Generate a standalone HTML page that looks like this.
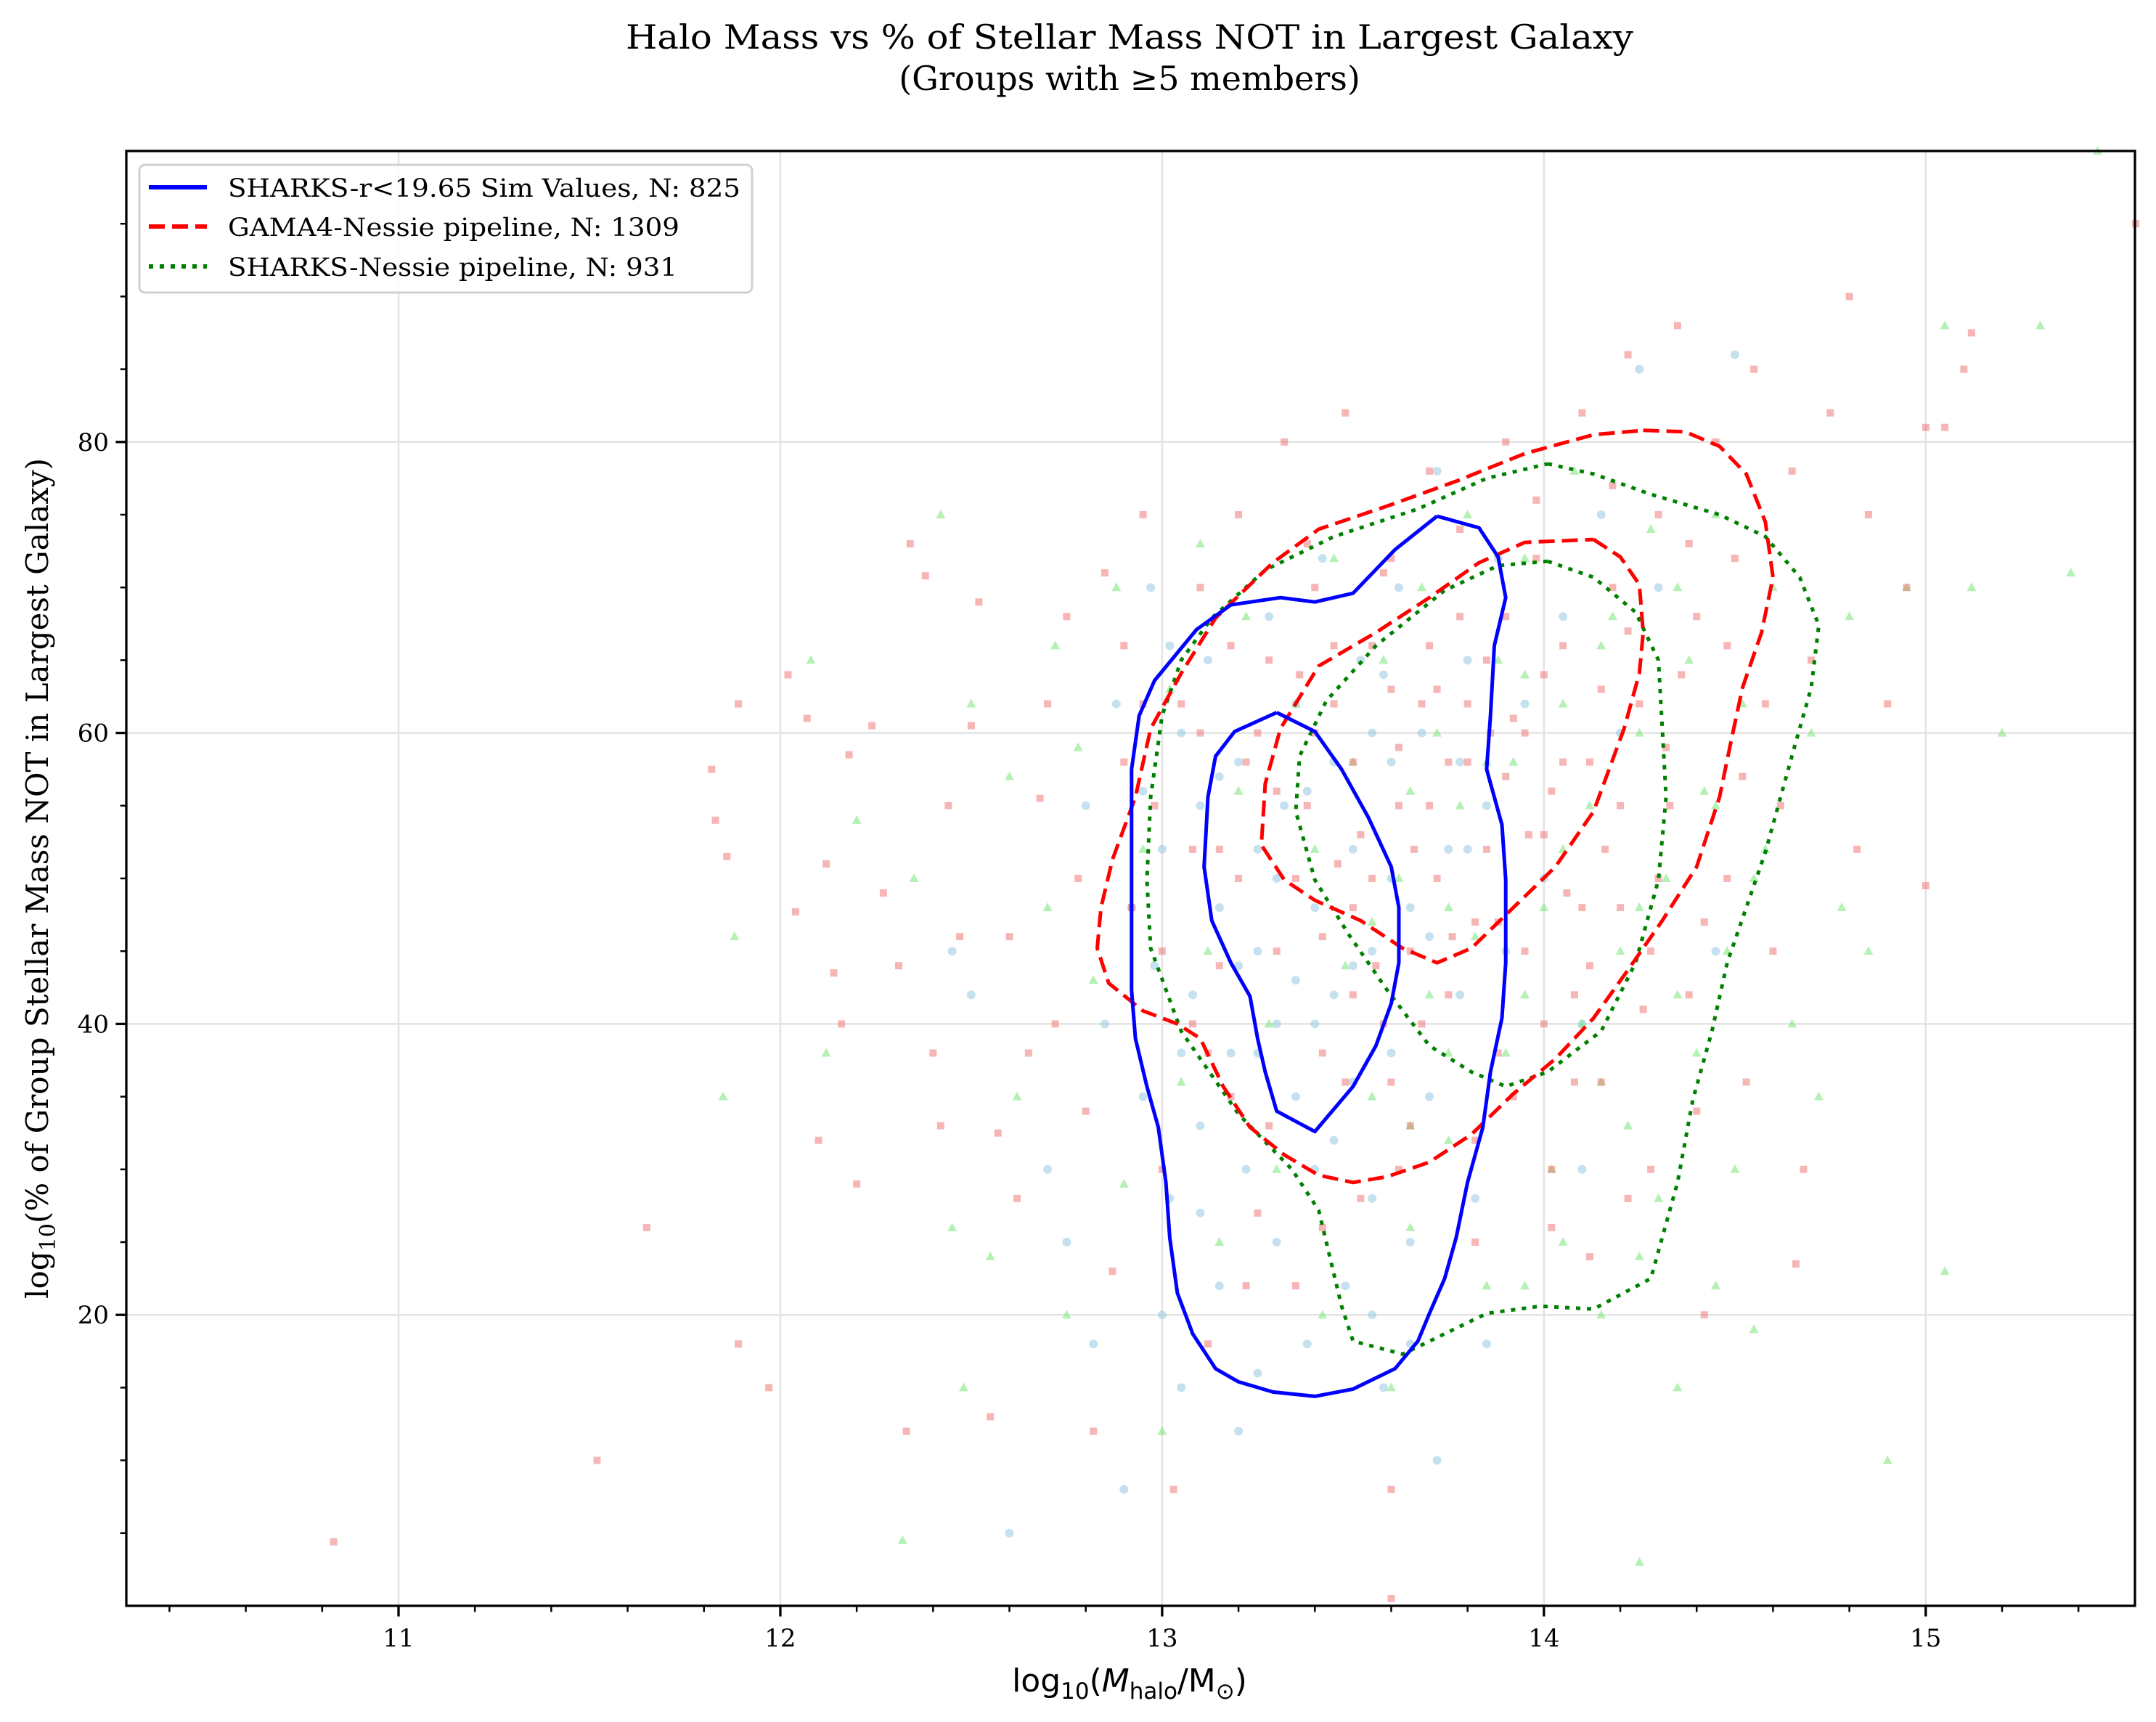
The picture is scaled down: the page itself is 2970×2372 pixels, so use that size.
<!DOCTYPE html>
<html><head><meta charset="utf-8">
<style>
html,body{margin:0;padding:0;background:#fff;}
svg{display:block;font-family:"DejaVu Serif","Liberation Serif",serif;}
</style></head>
<body>
<svg id="chart" width="2970" height="2372" viewBox="0 0 2970 2372" xmlns="http://www.w3.org/2000/svg">
<rect x="0" y="0" width="2970" height="2372" fill="#fff"/>
<g id="grid"></g>
<g id="points"></g>
<g id="contours"></g>
<g id="axes"></g>
<text x="1556" y="67" font-size="46" text-anchor="middle" textLength="1388" lengthAdjust="spacingAndGlyphs">Halo Mass vs % of Stellar Mass NOT in Largest Galaxy</text>
<text x="1556" y="124" font-size="46" text-anchor="middle">(Groups with ≥5 members)</text>
<text x="1556" y="2330" font-size="44" text-anchor="middle" font-family="'DejaVu Sans',sans-serif">log<tspan font-size="31" dy="10">10</tspan><tspan dy="-10">(</tspan><tspan font-style="italic">M</tspan><tspan font-size="31" dy="10">halo</tspan><tspan dy="-10">/M</tspan><tspan font-size="31" dy="10">⊙</tspan><tspan dy="-10">)</tspan></text>
<text transform="translate(66,1210) rotate(-90)" font-size="42" text-anchor="middle">log<tspan font-size="30" dy="10">10</tspan><tspan dy="-10">(% of Group Stellar Mass NOT in Largest Galaxy)</tspan></text>
<g>
<rect x="192" y="227" width="844" height="176" rx="8" fill="#fff" fill-opacity="0.85" stroke="#d0d0d0" stroke-width="3"/>
<line x1="205" y1="258" x2="285" y2="258" stroke="#0000ff" stroke-width="6"/>
<text x="314" y="271" font-size="35" textLength="706" lengthAdjust="spacingAndGlyphs">SHARKS-r&lt;19.65 Sim Values, N: 825</text>
<line x1="205" y1="312" x2="285" y2="312" stroke="#ff0000" stroke-width="6" stroke-dasharray="22,10"/>
<text x="314" y="325" font-size="35" textLength="622" lengthAdjust="spacingAndGlyphs">GAMA4-Nessie pipeline, N: 1309</text>
<line x1="205" y1="367" x2="285" y2="367" stroke="#008000" stroke-width="6" stroke-dasharray="6,9"/>
<text x="314" y="380" font-size="35" textLength="619" lengthAdjust="spacingAndGlyphs">SHARKS-Nessie pipeline, N: 931</text>
</g>
</svg>
<script>
const xTicks = [11, 12, 13, 14, 15];
const yTicks = [20, 40, 60, 80];
const redPts = [[10.83,4.4],[11.52,10],[11.65,26],[11.89,18],[11.97,15],[11.82,57.5],[11.83,54],[11.86,51.5],[11.89,62],[12.02,64],[12.04,47.7],[12.07,61],[12.1,32],[12.12,51],[12.14,43.5],[12.16,40],[12.18,58.5],[12.2,29],[12.24,60.5],[12.27,49],[12.31,44],[12.33,12],[12.34,73],[12.38,70.8],[12.4,38],[12.42,33],[12.44,55],[12.47,46],[12.5,60.5],[12.52,69],[12.55,13],[12.57,32.5],[12.6,46],[12.62,28],[12.65,38],[12.68,55.5],[12.7,62],[12.72,40],[12.75,68],[12.78,50],[12.8,34],[12.82,12],[12.85,71],[12.87,23],[12.9,66],[12.92,48],[12.95,75],[12.98,55],[13.0,30],[13.03,8],[13.05,62],[13.08,40],[13.1,70],[13.12,18],[13.15,52],[13.18,35],[13.2,75],[13.22,58],[13.25,27],[13.28,65],[13.3,45],[13.32,80],[13.35,22],[13.38,55],[13.4,70],[13.42,38],[13.45,62],[13.48,82],[13.5,48],[13.52,28],[13.55,66],[13.58,40],[13.6,72],[13.62,55],[13.65,33],[13.68,62],[13.7,78],[13.72,50],[13.75,42],[13.78,68],[13.8,58],[13.82,25],[13.85,65],[13.88,47],[13.9,80],[13.92,35],[13.95,60],[13.98,72],[14.0,53],[14.02,26],[14.05,66],[14.08,42],[14.1,82],[14.12,58],[14.15,36],[14.18,70],[14.2,48],[14.22,86],[14.25,62],[14.28,30],[14.3,75],[14.33,55],[14.35,88],[14.38,42],[14.4,68],[14.42,20],[14.45,80],[14.48,50],[14.5,72],[14.53,36],[14.55,85],[14.58,62],[14.6,45],[14.65,78],[14.68,30],[14.7,65],[14.75,82],[14.8,90],[14.82,52],[14.85,75],[14.9,62],[14.95,70],[15.0,81],[15.0,49.5],[15.05,81],[15.1,85],[15.12,87.5],[15.55,95],[14.66,23.5],[13.6,8],[13.6,0.5],[13.4,60],[13.5,58],[13.6,63],[13.7,55],[13.8,62],[13.9,57],[14.0,64],[13.55,50],[13.65,45],[13.75,58],[13.85,52],[13.95,45],[14.05,58],[14.15,63],[13.45,66],[13.35,50],[13.25,60],[13.15,44],[14.1,48],[14.2,55],[13.7,66],[13.9,68],[14.0,40],[13.3,56],[13.5,42],[14.3,50],[13.1,60],[13.6,36],[13.42,46],[13.52,53],[13.62,59],[13.72,63],[13.82,47],[13.92,61],[14.02,56],[14.12,44],[14.22,67],[14.32,59],[14.42,47],[14.52,57],[13.36,64],[13.46,51],[13.56,44],[13.66,52],[13.76,46],[13.86,60],[13.96,53],[14.06,49],[14.16,52],[14.26,41],[14.36,64],[13.2,50],[13.0,45],[12.95,62],[13.12,38],[13.28,33],[13.48,36],[13.68,40],[13.88,38],[14.08,36],[14.28,45],[14.48,66],[14.62,55],[13.58,71],[13.78,74],[13.98,76],[14.18,77],[14.38,73],[13.38,73],[13.18,66],[13.08,52],[12.9,58],[13.62,30],[13.82,32],[14.02,30],[14.22,28],[13.42,26],[13.22,22],[14.4,34],[14.12,24]];
const bluePts = [[12.45,45],[12.5,42],[12.6,5],[12.7,30],[12.75,25],[12.8,55],[12.82,18],[12.85,40],[12.88,62],[12.9,8],[12.92,48],[12.95,35],[12.97,70],[13.0,52],[13.0,20],[13.02,28],[13.05,60],[13.05,15],[13.08,42],[13.1,55],[13.1,33],[13.12,65],[13.15,22],[13.15,48],[13.18,38],[13.2,58],[13.2,12],[13.22,30],[13.25,52],[13.25,45],[13.28,68],[13.3,25],[13.3,40],[13.32,55],[13.35,35],[13.35,62],[13.38,18],[13.4,48],[13.4,30],[13.42,72],[13.45,42],[13.45,58],[13.48,22],[13.5,52],[13.5,36],[13.52,65],[13.55,28],[13.55,45],[13.58,15],[13.6,58],[13.6,38],[13.62,70],[13.65,48],[13.65,25],[13.68,60],[13.7,35],[13.72,78],[13.72,10],[13.75,52],[13.78,42],[13.8,65],[13.82,28],[13.85,55],[13.88,72],[13.9,45],[13.95,62],[14.0,50],[14.05,68],[14.1,40],[14.15,75],[14.2,60],[14.25,85],[14.3,70],[14.45,45],[14.5,86],[14.1,30],[13.85,18],[13.55,60],[13.25,38],[12.98,44],[13.1,27],[13.2,44],[13.3,50],[13.4,40],[13.5,44],[13.6,50],[13.7,46],[13.8,52],[13.15,57],[13.35,43],[13.45,32],[13.55,20],[13.65,18],[13.25,16],[13.05,38],[12.95,56],[13.38,56],[13.58,64],[13.78,58],[13.02,66]];
const greenPts = [[11.85,35],[11.88,46],[12.08,65],[12.12,38],[12.2,54],[12.32,4.5],[12.35,50],[12.42,75],[12.45,26],[12.48,15],[12.5,62],[12.55,24],[12.6,57],[12.62,35],[12.7,48],[12.72,66],[12.75,20],[12.78,59],[12.82,43],[12.88,70],[12.9,29],[12.95,52],[13.0,12],[13.02,63],[13.05,36],[13.1,73],[13.12,45],[13.15,25],[13.2,56],[13.22,68],[13.28,40],[13.3,30],[13.35,62],[13.4,52],[13.42,20],[13.45,72],[13.48,44],[13.5,58],[13.55,35],[13.58,65],[13.6,15],[13.62,50],[13.65,26],[13.68,70],[13.7,42],[13.72,60],[13.75,32],[13.78,55],[13.8,75],[13.82,46],[13.85,22],[13.88,65],[13.9,38],[13.92,58],[13.95,72],[14.0,48],[14.02,30],[14.05,62],[14.08,78],[14.1,40],[14.12,55],[14.15,20],[14.18,68],[14.2,45],[14.22,33],[14.25,60],[14.28,74],[14.3,28],[14.32,50],[14.35,15],[14.38,65],[14.4,38],[14.42,56],[14.45,75],[14.48,45],[14.5,30],[14.52,62],[14.55,19],[14.58,52],[14.6,70],[14.65,40],[14.7,60],[14.72,35],[14.78,48],[14.8,68],[14.85,45],[14.9,10],[14.95,70],[15.05,88],[15.05,23],[15.12,70],[15.2,60],[15.3,88],[15.38,71],[15.45,100],[14.25,3],[13.65,56],[13.85,58],[14.05,52],[14.25,48],[14.45,55],[13.75,48],[13.95,42],[14.15,36],[14.35,42],[14.55,50],[13.55,47],[13.95,64],[14.15,66],[14.35,70],[13.75,38],[14.05,25],[14.25,24],[14.45,22],[13.95,22],[13.65,33]];
const blueOuter = [[13.72,74.9],[13.83,74.1],[13.88,72.1],[13.90,69.3],[13.87,66.0],[13.86,61.2],[13.85,57.5],[13.89,53.7],[13.90,49.9],[13.90,44.2],[13.89,40.4],[13.86,36.7],[13.84,32.9],[13.80,29.1],[13.77,25.3],[13.74,22.5],[13.70,20.1],[13.67,18.2],[13.61,16.3],[13.50,14.9],[13.40,14.4],[13.29,14.7],[13.20,15.4],[13.14,16.3],[13.08,18.7],[13.04,21.5],[13.02,25.3],[13.01,29.1],[12.99,32.9],[12.96,35.7],[12.93,39.0],[12.92,42.3],[12.92,46.1],[12.92,51.8],[12.92,57.5],[12.94,61.2],[12.98,63.6],[13.09,67.1],[13.18,68.8],[13.31,69.3],[13.40,69.0],[13.50,69.6],[13.61,72.6],[13.72,74.9]];
const blueInner = [[13.30,61.4],[13.40,60.1],[13.47,57.5],[13.54,54.2],[13.60,50.8],[13.62,48.0],[13.62,44.2],[13.60,41.4],[13.56,38.5],[13.50,35.7],[13.40,32.6],[13.30,34.0],[13.27,36.7],[13.25,39.0],[13.23,41.9],[13.18,44.2],[13.13,47.1],[13.11,50.8],[13.12,55.6],[13.14,58.4],[13.19,60.1],[13.30,61.4]];
const redOuter = [[14.26,80.8],[14.37,80.7],[14.46,79.7],[14.53,77.8],[14.58,74.5],[14.60,70.7],[14.57,66.9],[14.52,63.1],[14.49,59.4],[14.46,55.6],[14.40,50.8],[14.31,47.1],[14.22,43.7],[14.13,40.4],[14.03,37.6],[13.92,35.2],[13.81,32.4],[13.70,30.5],[13.59,29.5],[13.50,29.1],[13.41,29.6],[13.32,31.0],[13.23,32.9],[13.16,35.7],[13.10,39.0],[13.04,40.0],[12.95,40.9],[12.86,42.8],[12.83,45.2],[12.84,48.0],[12.87,51.3],[12.93,55.6],[12.97,60.3],[13.05,64.1],[13.14,67.9],[13.29,71.7],[13.41,74.0],[13.59,75.6],[13.77,77.3],[13.95,79.2],[14.13,80.5],[14.26,80.8]];
const redInner = [[14.13,73.3],[14.20,72.1],[14.25,70.2],[14.26,66.9],[14.25,64.1],[14.21,60.3],[14.13,54.6],[14.03,50.8],[13.92,48.0],[13.81,45.2],[13.72,44.2],[13.63,45.2],[13.52,47.1],[13.40,48.5],[13.32,49.9],[13.26,52.3],[13.27,56.5],[13.31,60.3],[13.41,64.6],[13.56,66.9],[13.70,69.3],[13.83,71.7],[13.95,73.1],[14.13,73.3]];
const greenOuter = [[14.01,78.5],[14.13,77.8],[14.28,76.4],[14.46,75.0],[14.58,73.5],[14.67,70.7],[14.72,67.4],[14.70,63.1],[14.66,59.4],[14.62,55.6],[14.58,51.8],[14.53,48.0],[14.48,44.2],[14.44,39.5],[14.39,34.8],[14.35,29.1],[14.28,22.5],[14.13,20.4],[13.99,20.6],[13.85,20.1],[13.74,18.7],[13.63,17.3],[13.50,18.2],[13.47,20.6],[13.41,27.2],[13.34,30.0],[13.20,33.8],[13.05,39.5],[12.97,45.2],[12.96,49.9],[12.97,55.6],[13.00,61.2],[13.05,65.0],[13.13,67.9],[13.27,71.2],[13.45,73.5],[13.67,75.4],[13.85,77.5],[14.01,78.5]];
const greenInner = [[14.01,71.8],[14.13,70.7],[14.24,68.3],[14.30,65.0],[14.31,60.3],[14.32,55.6],[14.30,49.9],[14.24,44.2],[14.15,39.5],[14.01,36.7],[13.90,35.7],[13.81,36.7],[13.70,38.5],[13.59,42.3],[13.49,46.1],[13.40,49.9],[13.35,54.6],[13.36,58.4],[13.43,62.2],[13.56,66.0],[13.74,69.8],[13.88,71.5],[14.01,71.8]];

const X0=174, X1=2941, Y0=208, Y1=2212, XMIN=10.287, XMAX=15.548, YMIN=0, YMAX=100;
function sx(v){return X0+(v-XMIN)/(XMAX-XMIN)*(X1-X0);}
function sy(v){return Y1-(v-YMIN)/(YMAX-YMIN)*(Y1-Y0);}
const NS="http://www.w3.org/2000/svg";
function mk(tag,parent){const e=document.createElementNS(NS,tag);parent.appendChild(e);return e;}
const grid=document.getElementById('grid'), pts=document.getElementById('points'), cont=document.getElementById('contours'), axes=document.getElementById('axes');

xTicks.forEach(t=>{const l=mk('line',grid);


l.setAttribute('x1',sx(t));l.setAttribute('x2',sx(t));l.setAttribute('y1',Y0);l.setAttribute('y2',Y1);l.setAttribute('stroke','#e3e3e3');l.setAttribute('stroke-width','2.5');});
yTicks.forEach(t=>{const l=mk('line',grid);


l.setAttribute('x1',X0);l.setAttribute('x2',X1);l.setAttribute('y1',sy(t));l.setAttribute('y2',sy(t));l.setAttribute('stroke','#e3e3e3');l.setAttribute('stroke-width','2.5');});

bluePts.forEach(p=>{const c=mk('circle',pts);


c.setAttribute('cx',sx(p[0]));c.setAttribute('cy',sy(p[1]));c.setAttribute('r','6');c.setAttribute('fill','rgba(150,200,225,0.55)');});
greenPts.forEach(p=>{const c=mk('polygon',pts);


const x=sx(p[0]),y=sy(p[1]);c.setAttribute('points',`${x},${y-7} ${x-6.5},${y+5} ${x+6.5},${y+5}`);c.setAttribute('fill','rgba(120,230,120,0.55)');});
redPts.forEach(p=>{const c=mk('rect',pts);


c.setAttribute('x',sx(p[0])-5);c.setAttribute('y',sy(p[1])-5);c.setAttribute('width','10');c.setAttribute('height','10');c.setAttribute('fill','rgba(240,110,110,0.5)');});

function contour(arr,name,color,dash){const p=mk('path',cont);


p.setAttribute('d',arr.map((q,i)=>(i?'L':'M')+sx(q[0]).toFixed(1)+','+sy(q[1]).toFixed(1)).join(' '));
p.setAttribute('fill','none');p.setAttribute('stroke',color);p.setAttribute('stroke-width','5');p.setAttribute('stroke-linejoin','round');
if(dash)p.setAttribute('stroke-dasharray',dash);}
contour(greenOuter,'sharks-nessie-contour-outer','#008000','6,9');
contour(greenInner,'sharks-nessie-contour-inner','#008000','6,9');
contour(redOuter,'gama4-contour-outer','#ff0000','22,10');
contour(redInner,'gama4-contour-inner','#ff0000','22,10');
contour(blueOuter,'sharks-sim-contour-outer','#0000ff',null);
contour(blueInner,'sharks-sim-contour-inner','#0000ff',null);

const frame=mk('rect',axes);


frame.setAttribute('x',X0);frame.setAttribute('y',Y0);frame.setAttribute('width',X1-X0);frame.setAttribute('height',Y1-Y0);frame.setAttribute('fill','none');frame.setAttribute('stroke','#000');frame.setAttribute('stroke-width','3.3');

for(let v=10.4;v<15.55;v+=0.2){const vv=Math.round(v*10)/10;const major=Math.abs(vv-Math.round(vv))<1e-6;
const l=mk('line',axes);


l.setAttribute('x1',sx(vv));l.setAttribute('x2',sx(vv));l.setAttribute('y1',Y1);l.setAttribute('y2',Y1+(major?14.6:8.3));l.setAttribute('stroke','#000');l.setAttribute('stroke-width',major?3.3:2.5);}
for(let v=5;v<100;v+=5){const major=v%20===0;
const l=mk('line',axes);


l.setAttribute('x1',X0);l.setAttribute('x2',X0-(major?14.6:8.3));l.setAttribute('y1',sy(v));l.setAttribute('y2',sy(v));l.setAttribute('stroke','#000');l.setAttribute('stroke-width',major?3.3:2.5);}
xTicks.forEach(t=>{const tx=mk('text',axes);


tx.setAttribute('x',sx(t));tx.setAttribute('y',2268);tx.setAttribute('font-size','34');tx.setAttribute('text-anchor','middle');tx.textContent=t;});
yTicks.forEach(t=>{const tx=mk('text',axes);


tx.setAttribute('x',X0-24);tx.setAttribute('y',sy(t)+12);tx.setAttribute('font-size','34');tx.setAttribute('text-anchor','end');tx.textContent=t;});
</script>
</body></html>
